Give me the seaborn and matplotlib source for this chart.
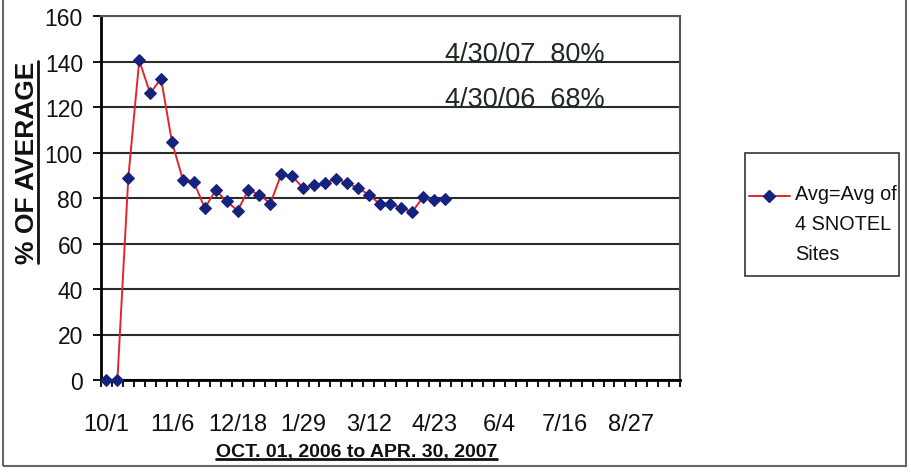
# SNOTEL snowpack, % of average, Oct 2006 - Apr 2007
import numpy as np
import pandas as pd
import matplotlib
matplotlib.use("Agg")
import matplotlib.pyplot as plt
import seaborn as sns
from matplotlib.lines import Line2D
from matplotlib.patches import Rectangle
from matplotlib.transforms import IdentityTransform

# data (one value per weekly category)
pct_of_avg = [0, 0, 89, 140.5, 126, 132.5, 104.5, 88, 87, 75.5, 83.5, 78.5,
              74.5, 83.5, 81.5, 77.5, 90.5, 89.5, 84.5, 85.5, 86.5, 88.5,
              86.5, 84.5, 81.5, 77.5, 77.5, 75.5, 74, 80.5, 79, 79.5]
n_categories = 53
tick_labels = ["10/1", "11/6", "12/18", "1/29", "3/12", "4/23", "6/4", "7/16", "8/27"]
label_step = 6
y_ticks = [0, 20, 40, 60, 80, 100, 120, 140, 160]
notes = ["4/30/07  80%", "4/30/06  68%"]
note_levels = [140, 120]
series_label = "Avg=Avg of\n4 SNOTEL\nSites"

LINE_RED = "#e2262b"
NAVY = "#16237e"
GRID = "#2b2b2b"
NOTE_COL = "#1d2a1f"

sns.set_theme(style="white")
plt.rcParams["font.family"] = ["Liberation Sans", "DejaVu Sans"]

W, H = 911, 477
fig = plt.figure(figsize=(W / 100, H / 100), dpi=100)
ax = fig.add_axes([101 / W, 1 - 381 / H, (680 - 101) / W, (381 - 17) / H])

df = pd.DataFrame({"week": np.arange(len(pct_of_avg)), "pct": pct_of_avg})
sns.lineplot(data=df, x="week", y="pct", ax=ax, color=LINE_RED, lw=1.4,
             marker="D", markersize=6, markerfacecolor=NAVY, markeredgecolor=NAVY,
             clip_on=False, zorder=5, legend=False)

# axes, ticks, grid
ax.set_xlim(-0.5, n_categories - 0.5)
ax.set_ylim(0, 160)
ax.set_yticks(y_ticks)
ax.set_yticklabels([str(v) for v in y_ticks])
ax.set_xticks(np.arange(0, n_categories, label_step)[:len(tick_labels)])
ax.set_xticklabels(tick_labels)
ax.set_xticks(np.arange(-0.5, n_categories), minor=True)
ax.tick_params(axis="x", which="major", length=0, pad=24, labelsize=17, colors="#111")
ax.tick_params(axis="x", which="minor", bottom=True, length=5, width=1.3,
               direction="out", color="black")
ax.tick_params(axis="y", left=True, length=6, width=1.3, direction="out",
               color="black", pad=7, labelsize=16.5, labelcolor="#111")
ax.yaxis.grid(True, color=GRID, lw=1.5)
ax.xaxis.grid(False)
ax.set_axisbelow(True)
ax.set_xlabel("")
ax.set_ylabel("")
for side in ["top", "right"]:
    ax.spines[side].set_color("#555")
    ax.spines[side].set_linewidth(1.5)
for side in ["left", "bottom"]:
    ax.spines[side].set_color("black")
    ax.spines[side].set_linewidth(2)

# annotations sitting on the gridlines
for txt, lvl in zip(notes, note_levels):
    ax.text(38.3, lvl + 0.3, txt, ha="center", va="baseline", fontsize=19.5, color=NOTE_COL)

# axis titles (underlined)
xlab = fig.text(356.5 / W, 1 - 457 / H, "OCT. 01, 2006 to APR. 30, 2007",
                ha="center", va="baseline", fontsize=14, fontweight="bold", color="#111")
ylab = fig.text(27 / W, 1 - 163 / H, "% OF AVERAGE", rotation=90, ha="center", va="center",
                fontsize=19, fontweight="bold", color="#111")

# legend drawn as a boxed key
frame = Rectangle((745 / W, 1 - 277 / H), (899 - 745) / W, (277 - 154) / H,
                  transform=fig.transFigure, fill=False, edgecolor="#444", lw=1.3)
fig.add_artist(frame)
ky = 1 - 197 / H
fig.add_artist(Line2D([749 / W, 769 / W, 790 / W], [ky, ky, ky], transform=fig.transFigure,
                      color=LINE_RED, lw=1.4, marker="D", markersize=6, markevery=[1],
                      markerfacecolor=NAVY, markeredgecolor=NAVY))
fig.text(795 / W, 1 - 185 / H, series_label, ha="left", va="top",
         fontsize=14.3, color="#111", linespacing=1.72)

# outer chart border
fig.add_artist(Rectangle((3 / W, 1 - 467 / H), 903 / W, 1.2, transform=fig.transFigure,
                         fill=False, edgecolor="#666", lw=1.5))

# underline the axis titles
fig.canvas.draw()
r = fig.canvas.get_renderer()
bb = xlab.get_window_extent(r)
fig.add_artist(Line2D([bb.x0, bb.x1], [bb.y0 + 1, bb.y0 + 1], transform=IdentityTransform(),
                      color="#111", lw=2))
bb = ylab.get_window_extent(r)
fig.add_artist(Line2D([bb.x1 - 1, bb.x1 - 1], [bb.y0, bb.y1], transform=IdentityTransform(),
                      color="#111", lw=2))

fig.savefig("out.png", dpi=100)
